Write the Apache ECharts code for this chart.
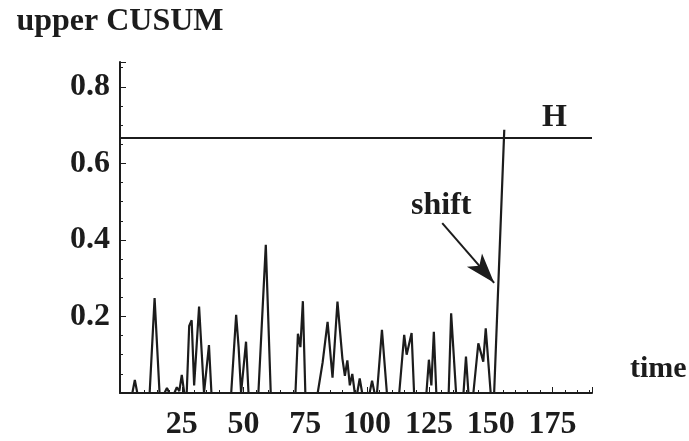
<!DOCTYPE html>
<html>
<head>
<meta charset="utf-8">
<script src="https://cdn.jsdelivr.net/npm/echarts@6/dist/echarts.min.js"></script>
<style>html,body{margin:0;padding:0;background:#fff}#c{width:689px;height:441px}</style>
</head>
<body>
<div id="c"></div>
<script>
// time values (vertices of the CUSUM path)
const times = [1,5,6,7,12,14,16,18,19,20,22,23,24,25,26,27,28,29,30,32,34,36,37,
  45,47,48,49,51,52,56,59,61,71,72,73,74,75,80,82,84,86,88,90,91,92,93,94,95,
  96,97,98,101,102,103,104,106,108,113,115,116,118,119,124,125,126,127,128,
  133,134,136,139,140,141,143,145,147,148,150,151.4,155.5];
const cusum = [0,0,0.034,0,0,0.248,0,0,0.013,0,0,0.015,0.005,0.047,0,0,0.175,0.19,0.02,0.226,0,0.125,0,
  0,0.204,0.12,0,0.134,0,0,0.387,0,0,0.155,0.12,0.24,0,0,0.08,0.186,0.04,0.239,0.09,0.045,0.085,0.02,0.05,0,
  0,0.038,0,0,0.032,0,0,0.165,0,0,0.152,0.1,0.157,0,0,0.087,0.02,0.16,0,
  0,0.208,0,0,0.095,0,0,0.13,0.082,0.169,0,0,0.688];
const H = 0.667;
const xTicks = [25,50,75,100,125,150,175];
const yTicks = [0.2,0.4,0.6,0.8];
const shiftLabel = {text:'shift', t:130, v:0.49};
const arrowFrom = [130.4, 0.444];
const arrowTo = [151.4, 0.288];

const FONT = '"Liberation Serif","Times New Roman",serif';
const INK = '#1c1c1c';
const chart = echarts.init(document.getElementById('c'), null, {renderer:'canvas'});
const data = times.map((t,i)=>[t, cusum[i]]);
chart.setOption({
  animation:false,
  backgroundColor:'#fff',
  grid:{left:120, right:97, top:62, bottom:48, containLabel:false, outerBoundsMode:'none'},
  xAxis:{
    type:'value', min:0, max:191, interval:25,
    name:'time', nameLocation:'end', nameGap:38,
    nameTextStyle:{fontFamily:FONT, fontWeight:'bold', fontSize:30, color:INK, verticalAlign:'bottom', lineHeight:48},
    axisLine:{onZero:false, lineStyle:{color:INK, width:2}},
    axisTick:{show:true, inside:true, length:6, lineStyle:{color:INK, width:1}},
    minorTick:{show:true, splitNumber:5, length:3, lineStyle:{color:INK, width:1}},
    splitLine:{show:false},
    axisLabel:{fontFamily:FONT, fontWeight:'bold', fontSize:32, color:INK, margin:16,
      formatter:v=> xTicks.includes(v) ? String(v) : ''}
  },
  yAxis:{
    type:'value', min:0, max:0.865, interval:0.2,
    name:'upper CUSUM', nameLocation:'end', nameGap:24,
    nameTextStyle:{fontFamily:FONT, fontWeight:'bold', fontSize:32, color:INK, align:'center'},
    axisLine:{onZero:false, lineStyle:{color:INK, width:2}},
    axisTick:{show:true, inside:true, length:6, lineStyle:{color:INK, width:1}},
    minorTick:{show:true, splitNumber:4, length:3, lineStyle:{color:INK, width:1}},
    splitLine:{show:false},
    axisLabel:{fontFamily:FONT, fontWeight:'bold', fontSize:32, color:INK, margin:10,
      formatter:v=>{ const m = yTicks.find(t=>Math.abs(t-v)<1e-6); return m!==undefined ? m.toFixed(1) : ''; }}
  },
  series:[{
    type:'line', data:data, showSymbol:false, symbol:'none',
    lineStyle:{color:INK, width:2.2},
    markLine:{
      silent:true, animation:false,
      data:[
        [{coord:[0,H], symbol:'none'}, {coord:[191,H], symbol:'none',
          label:{show:true, formatter:'H', position:'insideEndTop', distance:[25,4],
            fontFamily:FONT, fontWeight:'bold', fontSize:32, color:INK}}],
        [{coord:arrowFrom, symbol:'none'}, {coord:arrowTo, symbol:'arrow', symbolSize:[15,30], label:{show:false}}]
      ],
      lineStyle:{color:INK, width:2, type:'solid'},
      label:{show:false}
    },
    markPoint:{
      silent:true,
      data:[{coord:[shiftLabel.t, shiftLabel.v], symbol:'circle', symbolSize:1,
        itemStyle:{color:'rgba(0,0,0,0)'},
        label:{show:true, formatter:shiftLabel.text, position:'inside',
          fontFamily:FONT, fontWeight:'bold', fontSize:32, color:INK}}]
    }
  }]
});
</script>
</body>
</html>
